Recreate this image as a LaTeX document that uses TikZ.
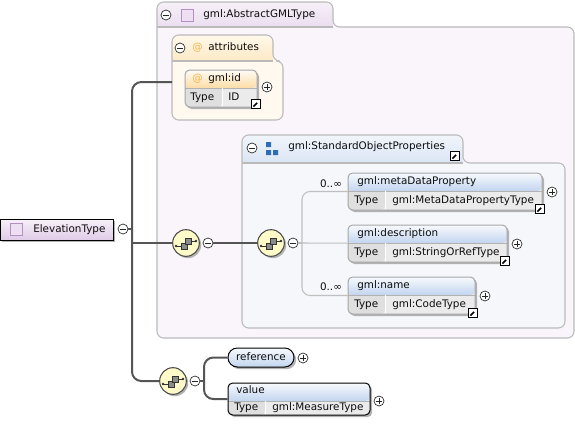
\documentclass[tikz,border=0pt]{standalone}
\usepackage{fontspec}
\setmainfont{DejaVu Sans}
\usepackage{tikz}
\usetikzlibrary{positioning,calc,fit,shadows}

\definecolor{lavbody}{HTML}{F9F5FA}
\definecolor{lavtop}{HTML}{F6F0F8}
\definecolor{lavbot}{HTML}{E4D5EA}
\definecolor{orgbody}{HTML}{FFF9F0}
\definecolor{orgtop}{HTML}{FFF8EA}
\definecolor{orgbot}{HTML}{FCE2B2}
\definecolor{bluebody}{HTML}{F5F7FB}
\definecolor{bluetop}{HTML}{F1F5FB}
\definecolor{bluebot}{HTML}{CCDCF0}
\definecolor{hdrblue}{HTML}{C2D5EF}
\definecolor{hdrorange}{HTML}{FCDCA6}
\definecolor{rowgray}{HTML}{EBEBEB}
\definecolor{typegray}{HTML}{DFDFDF}
\definecolor{seqyellow}{HTML}{FFFBC8}
\definecolor{roottop}{HTML}{F7F0F9}
\definecolor{rootbot}{HTML}{E0CBE7}
\definecolor{iconfill}{HTML}{EEE0F2}
\definecolor{iconline}{HTML}{B48FC4}
\definecolor{atorange}{HTML}{F2B54A}
\definecolor{grpblue}{HTML}{2E6CB5}
\definecolor{linegray}{HTML}{555555}

\tikzset{
  txt/.style={inner sep=0pt, anchor=west, text height=5.8pt, text depth=1.6pt,
    font=\fontsize{7.8}{9.4}\selectfont, text=black!95},
  trunk/.style={draw=linegray, line width=1.5pt, rounded corners=7pt},
  branch/.style={draw=black!25, line width=0.8pt, rounded corners=6pt},
  cframe/.style={draw=black!27, line width=0.8pt, rounded corners=5pt},
  collapse/.style={circle, draw=black!85, fill=white, minimum size=7.5pt, inner sep=0pt, line width=0.5pt,
    path picture={\draw[line width=0.6pt] ([xshift=1.7pt]path picture bounding box.west) -- ([xshift=-1.7pt]path picture bounding box.east);}},
  expand/.style={collapse,
    path picture={\draw[line width=0.6pt] ([xshift=1.7pt]path picture bounding box.west) -- ([xshift=-1.7pt]path picture bounding box.east);
      \draw[line width=0.6pt] ([yshift=1.7pt]path picture bounding box.south) -- ([yshift=-1.7pt]path picture bounding box.north);}},
  linkicon/.style={rectangle, draw=black, fill=white, minimum size=6.5pt, inner sep=0pt, line width=0.7pt,
    path picture={\draw[line width=1.3pt] ([shift={(1.3pt,1.3pt)}]path picture bounding box.south west) -- ([shift={(-2pt,-2pt)}]path picture bounding box.north east);
      \fill ([shift={(-0.9pt,-0.9pt)}]path picture bounding box.north east) -- ++(-3pt,0pt) -- ++(3pt,-3pt) -- cycle;}},
  typeicon/.style={rectangle, draw=iconline, fill=iconfill, minimum size=9pt, inner sep=0pt, line width=0.6pt},
  elembox/.style={inner sep=0pt, draw=black!35, line width=0.75pt, rounded corners=3.5pt,
    drop shadow={shadow xshift=1.6pt, shadow yshift=-1.6pt, opacity=1, fill=black!30}},
  typedbox/.style={elembox, fill=rowgray,
    path picture={\fill[typegray] (path picture bounding box.north west) rectangle ([xshift=27.75pt]path picture bounding box.south west);
      \shade[top color=#1!12!white, bottom color=#1] (path picture bounding box.north west) rectangle ([yshift=-13.5pt]path picture bounding box.north east);
      \draw[black!30, line width=0.5pt] ([yshift=-13.5pt]path picture bounding box.north west) -- ([yshift=-13.5pt]path picture bounding box.north east);
      \draw[white, line width=0.6pt] ([xshift=27.75pt,yshift=-13.5pt]path picture bounding box.north west) -- ([xshift=27.75pt]path picture bounding box.south west);}},
  seqnode/.style={circle, draw=black!70, line width=0.8pt, fill=seqyellow, minimum size=20pt, inner sep=0pt,
    drop shadow={shadow xshift=1.4pt, shadow yshift=-1.4pt, opacity=1, fill=black!30},
    path picture={\begin{scope}[shift={(path picture bounding box.center)}]
      \draw[black!80, line width=0.7pt] (-10,3) -- (-5,3);
      \fill[black!80] (-10,3) circle (1pt);
      \filldraw[fill=black!45, draw=black!80, line width=0.5pt] (-5,0) rectangle (1,6);
      \filldraw[fill=black!45, draw=black!80, line width=0.5pt] (-1,-5) rectangle (5,1);
      \draw[black!80, line width=0.7pt] (5,-2) -- (10,-2);
      \fill[black!80] (10,-2) circle (1pt);
    \end{scope}}}
}

\begin{document}
\begin{tikzpicture}[x=0.75pt, y=-0.75pt]
    \useasboundingbox (0,0) rectangle (575,426);
    \fill[white] (0,0) rectangle (575,426);

    % AbstractGMLType container
    \fill[lavbody, rounded corners=5pt] (157,150) -- (157,2) -- (333,2) -- (333,27) -- (574,27) -- (574,338) -- (157,338) -- cycle;
    \begin{scope}
        \clip (157,0) rectangle (333,27);
        \shade[top color=lavtop, bottom color=lavbot, rounded corners=5pt] (157,2) rectangle (333,40);
    \end{scope}
    \draw[cframe] (157,150) -- (157,2) -- (333,2) -- (333,27) -- (574,27) -- (574,338) -- (157,338) -- cycle;
    \draw[cframe] (157,27) -- (333,27);
    \node[collapse] (absMinus) at (166,15) {};
    \node[typeicon] (absIcon) at (187,15) {};
    \node[txt] (absTitle) at (203,15) {gml:AbstractGMLType};

    % attributes container
    \fill[orgbody, rounded corners=5pt] (172,90) -- (172,35) -- (273,35) -- (273,61) -- (283,61) -- (283,120) -- (172,120) -- cycle;
    \begin{scope}
        \clip (172,30) rectangle (273,61);
        \shade[top color=orgtop, bottom color=orgbot, rounded corners=5pt] (172,35) rectangle (273,75);
    \end{scope}
    \draw[cframe] (172,90) -- (172,35) -- (273,35) -- (273,61) -- (283,61) -- (283,120) -- (172,120) -- cycle;
    \draw[cframe] (172,61) -- (273,61);
    \node[collapse] (attrMinus) at (180,48) {};
    \node[txt, text=atorange] (attrAt) at (192,48) {@};
    \node[txt] (attrTitle) at (208,48) {attributes};
    \coordinate (attrIn) at (172,82);

    % gml:id attribute
    \node[typedbox=hdrorange, fit={(185,70) (257,107)}] (gmlid) {};
    \node[txt, text=atorange] (gmlidAt) at (192,79) {@};
    \node[txt] (gmlidName) at (208,79) {gml:id};
    \node[txt] (gmlidType) at (190,98) {Type};
    \node[txt] (gmlidVal) at (228,98) {ID};
    \node[linkicon] (gmlidLink) at (256,104) {};
    \node[expand] (gmlidPlus) at (267,87) {};

    % StandardObjectProperties group
    \fill[bluebody, rounded corners=5pt] (242,250) -- (242,135) -- (463,135) -- (463,163) -- (565,163) -- (565,328) -- (242,328) -- cycle;
    \begin{scope}
        \clip (242,130) rectangle (463,163);
        \shade[top color=bluetop, bottom color=bluebot, rounded corners=5pt] (242,135) rectangle (463,180);
    \end{scope}
    \draw[cframe] (242,250) -- (242,135) -- (463,135) -- (463,163) -- (565,163) -- (565,328) -- (242,328) -- cycle;
    \draw[cframe] (242,163) -- (463,163);
    \node[collapse] (sopMinus) at (252,148) {};
    \fill[grpblue] (266,142) rectangle (271,147) (266,150) rectangle (271,155) (273,150) rectangle (278,155);
    \node[txt] (sopTitle) at (288,147) {gml:StandardObjectProperties};
    \node[linkicon] (sopLink) at (455,156) {};

    \foreach \n/\top/\rt/\title/\type in {mdp/173/542/gml:metaDataProperty/gml:MetaDataPropertyType,
        desc/225/507/gml:description/gml:StringOrRefType, gname/277/475/gml:name/gml:CodeType}{
        \node[typedbox=hdrblue, fit={(348,\top) (\rt,\top+37)}] (\n) {};
        \node[txt] (\n-title) at (357,\top+9) {\title};
        \node[txt] (\n-type) at (354,\top+28) {Type};
        \node[txt] (\n-val) at (392,\top+28) {\type};
        \node[linkicon] (\n-link) at (\rt-2,\top+36) {};
        \node[expand] (\n-plus) at (\rt+10,\top+19) {};
    }
    \node[txt, anchor=center] (mdpCard) at (331,185) {0..∞};
    \node[txt, anchor=center] (gnameCard) at (331,288) {0..∞};

    % ElevationType root
    \node[elembox, draw=black, sharp corners, top color=roottop, bottom color=rootbot, fit={(0,219) (113,240)}] (elev) {};
    \node[typeicon] (elevIcon) at (16,229.5) {};
    \node[txt] (elevTitle) at (33,230) {ElevationType};
    \node[collapse] (elevMinus) at (123,229) {};

    % sequences
    \node[seqnode] (seq1) at (186,243) {};
    \node[collapse] (seq1Minus) at (208,243) {};
    \node[seqnode] (seq2) at (271,243) {};
    \node[collapse] (seq2Minus) at (293,243) {};
    \node[seqnode] (seq3) at (173,381) {};
    \node[collapse] (seq3Minus) at (195,381) {};

    % reference and value
    \node[elembox, draw=black, rounded corners=7pt, top color=hdrblue!12!white, bottom color=hdrblue, fit={(228,348) (294,367)}] (ref) {};
    \node[txt, anchor=center] (refTitle) at (ref.center) {reference};
    \node[expand] (refPlus) at (303,358) {};
    \node[typedbox=hdrblue, draw=black, fit={(228,383) (370,415)}] (value) {};
    \node[txt] (valueTitle) at (236,391) {value};
    \node[txt] (valueType) at (234,408) {Type};
    \node[txt] (valueVal) at (272,408) {gml:MeasureType};
    \node[expand] (valuePlus) at (379,401) {};

    % connectors
    \coordinate (bus) at (132,243);
    \draw[trunk] (attrIn) -| (bus) |- (seq3);
    \draw[trunk] (elevMinus) -- (elevMinus -| bus);
    \draw[trunk] (bus) -- (seq1);
    \draw[trunk] (seq1Minus) -- (seq2);

    \coordinate (sopBus) at (302,243);
    \draw[branch] (seq2Minus) -- (sopBus);
    \draw[branch] (sopBus) |- (mdp);
    \draw[branch] (sopBus) -- (desc);
    \draw[branch] (sopBus) |- (gname);

    \coordinate (valBus) at (204,381);
    \draw[trunk] (seq3Minus) -- (valBus);
    \draw[trunk] (valBus) |- (ref);
    \draw[trunk] (valBus) |- (value);
\end{tikzpicture}
\end{document}
